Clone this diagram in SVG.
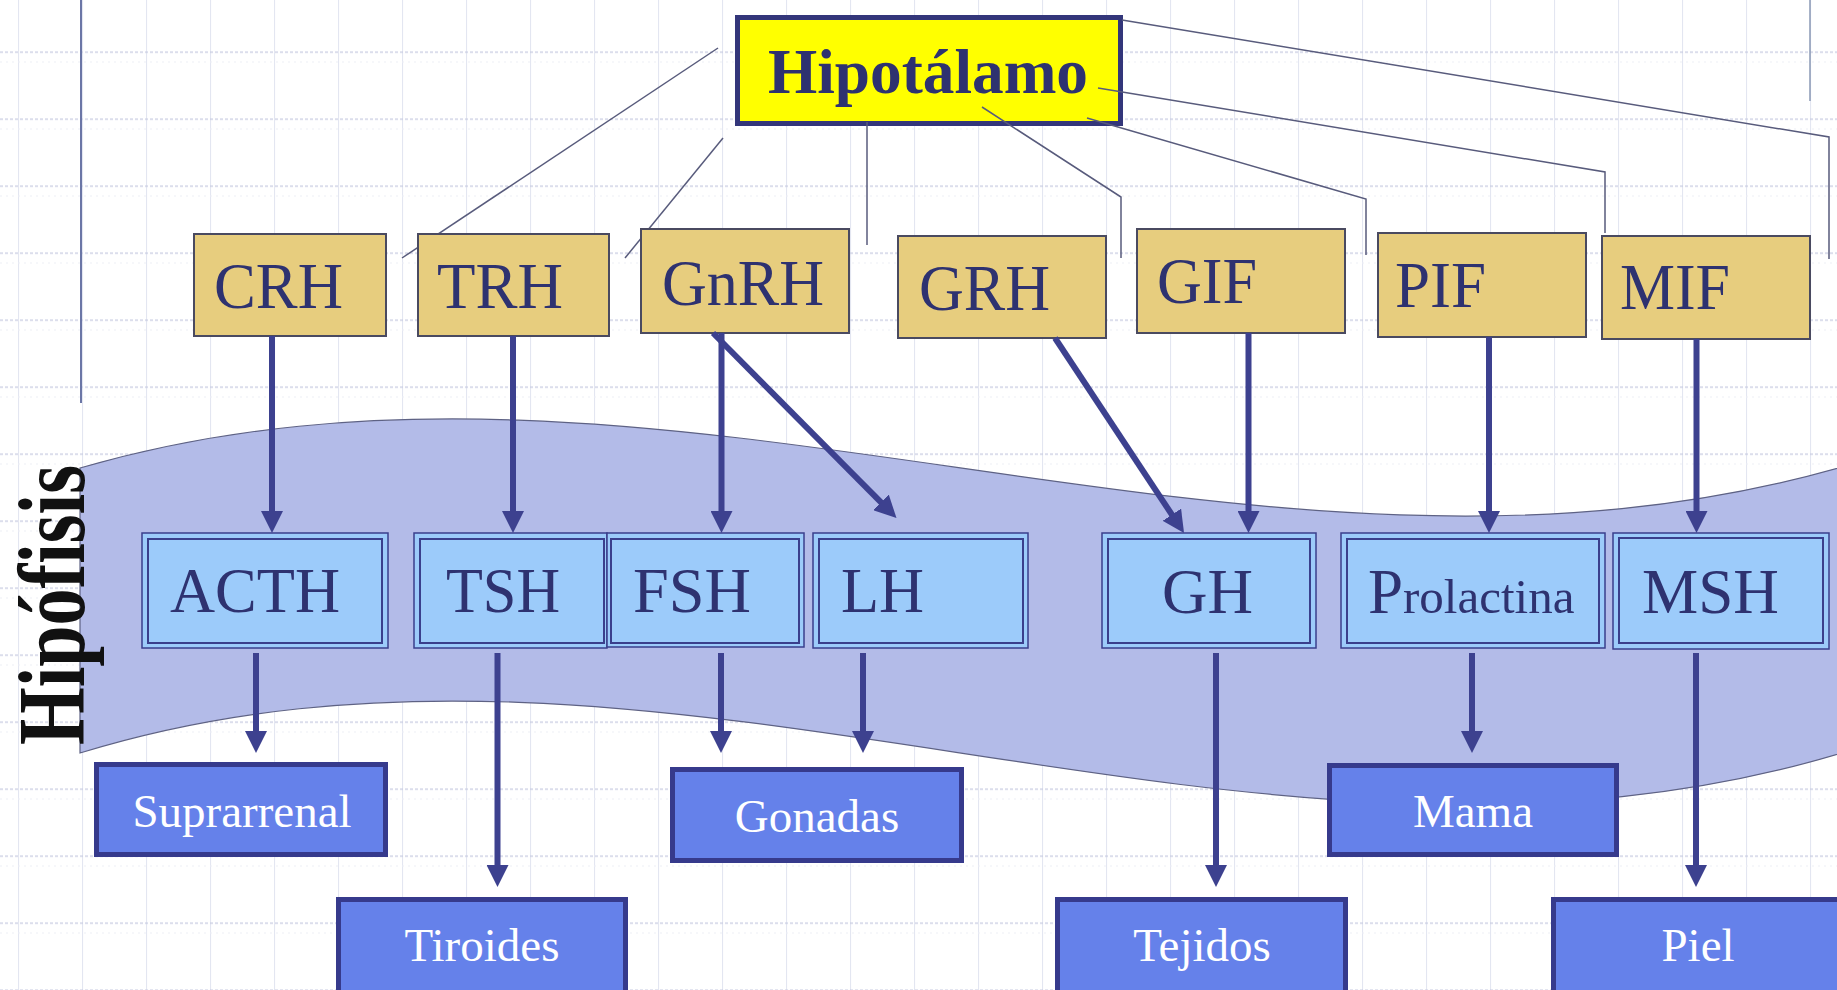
<svg xmlns="http://www.w3.org/2000/svg" width="1837" height="990" viewBox="0 0 1837 990">
  <defs>
    <marker id="head" markerUnits="userSpaceOnUse" markerWidth="22" markerHeight="22" viewBox="0 0 22 22" refX="4" refY="11" orient="auto">
      <path d="M0,0 L22,11 L0,22 Z" fill="#3D418F"/>
    </marker>
    <pattern id="gridV" width="64" height="990" patternUnits="userSpaceOnUse" x="18" y="0">
      <line x1="0.5" y1="0" x2="0.5" y2="990" stroke="#E3E6F1" stroke-width="1.2"/>
    </pattern>
    <pattern id="gridH" width="1837" height="67" patternUnits="userSpaceOnUse" x="0" y="51.5">
      <line x1="0" y1="0.5" x2="1837" y2="0.5" stroke="#C6CAE0" stroke-width="1.5" stroke-dasharray="3 2"/>
      <line x1="0" y1="10.5" x2="1837" y2="10.5" stroke="#ECEEF5" stroke-width="1" stroke-dasharray="2 4"/>
    </pattern>
  </defs>
  <style>
    .tan rect { fill: #E7CD7E; stroke: #4A4A60; stroke-width: 2; }
    .tan text { font-family: "Liberation Serif", "Times New Roman", serif; font-size: 66px; fill: #2E3270; }
    .hb .outer { fill: #9CCBFA; stroke: #3A3F8C; stroke-width: 1.5; }
    .hb .inner { fill: none; stroke: #3A3F8C; stroke-width: 2; }
    .hb text { font-family: "Liberation Serif", "Times New Roman", serif; font-size: 63px; fill: #2E3270; }
    .tg rect { fill: #6581EA; stroke: #363A8C; stroke-width: 5; }
    .tg text { font-family: "Liberation Serif", "Times New Roman", serif; font-size: 47px; fill: #FFFFFF; text-anchor: middle; }
    .thin line, .thin polyline { stroke: #585B7C; stroke-width: 1.5; fill: none; }
    .arr line { stroke: #3D418F; stroke-width: 6; marker-end: url(#head); }
  </style>

  <!-- background grid -->
  <rect width="1837" height="990" fill="#FFFFFF"/>
  <rect width="1837" height="990" fill="url(#gridV)"/>
  <rect width="1837" height="990" fill="url(#gridH)"/>
  <line x1="81" y1="0" x2="81" y2="403" stroke="#6B76A6" stroke-width="2"/>
  <line x1="1810" y1="0" x2="1810" y2="101" stroke="#8A98B4" stroke-width="1.5"/>

  <!-- pituitary band -->
  <g id="hipofisis">
    <path d="M80,468 C666,298 1251,638 1845,466 L1845,752 C1251,933 666,573 80,753 Z" fill="#B3BBE8" stroke="#5E6284" stroke-width="1.2"/>
    <text transform="translate(84,745) rotate(-90)" font-family="Liberation Serif, Times New Roman, serif" font-weight="bold" font-size="96" fill="#111111" textLength="280" lengthAdjust="spacingAndGlyphs">Hipófisis</text>
  </g>

  <!-- hypothalamus -->
  <g id="hipotalamo">
    <rect x="737.5" y="17.5" width="383" height="106" fill="#FFFF00" stroke="#33367A" stroke-width="5"/>
    <text x="768" y="93" font-family="Liberation Serif, Times New Roman, serif" font-weight="bold" font-size="64" fill="#2E3270" textLength="320" lengthAdjust="spacingAndGlyphs">Hipotálamo</text>
  </g>

  <!-- thin links from the hypothalamus to the releasing factors -->
  <g id="links" class="thin">
    <line x1="718" y1="48" x2="402" y2="258"/>
    <line x1="723" y1="138" x2="625" y2="258"/>
    <line x1="867" y1="122" x2="867" y2="245"/>
    <polyline points="982,107 1121,197 1121,258"/>
    <polyline points="1087,118 1366,199 1366,255"/>
    <polyline points="1098,88 1605,172 1605,233"/>
    <polyline points="1122,20 1829,137 1829,259"/>
  </g>

  <!-- releasing factors -->
  <g id="crh" class="tan"><rect x="194" y="234" width="192" height="102"/><text x="214" y="308" textLength="129" lengthAdjust="spacingAndGlyphs">CRH</text></g>
  <g id="trh" class="tan"><rect x="418" y="234" width="191" height="102"/><text x="437" y="308" textLength="126" lengthAdjust="spacingAndGlyphs">TRH</text></g>
  <g id="gnrh" class="tan"><rect x="641" y="229" width="208" height="104"/><text x="662" y="305" textLength="162" lengthAdjust="spacingAndGlyphs">GnRH</text></g>
  <g id="grh" class="tan"><rect x="898" y="236" width="208" height="102"/><text x="919" y="310" textLength="131" lengthAdjust="spacingAndGlyphs">GRH</text></g>
  <g id="gif" class="tan"><rect x="1137" y="229" width="208" height="104"/><text x="1157" y="303" textLength="100" lengthAdjust="spacingAndGlyphs">GIF</text></g>
  <g id="pif" class="tan"><rect x="1378" y="233" width="208" height="104"/><text x="1395" y="307" textLength="91" lengthAdjust="spacingAndGlyphs">PIF</text></g>
  <g id="mif" class="tan"><rect x="1602" y="236" width="208" height="103"/><text x="1620" y="309" textLength="110" lengthAdjust="spacingAndGlyphs">MIF</text></g>

  <!-- pituitary hormones -->
  <g id="acth" class="hb"><rect class="outer" x="142" y="533" width="246" height="115"/><rect class="inner" x="148" y="539" width="234" height="104"/><text x="170" y="612" textLength="170" lengthAdjust="spacingAndGlyphs">ACTH</text></g>
  <g id="tsh" class="hb"><rect class="outer" x="414" y="533" width="193" height="115"/><rect class="inner" x="420" y="539" width="184" height="104"/><text x="446" y="612" textLength="114" lengthAdjust="spacingAndGlyphs">TSH</text></g>
  <g id="fsh" class="hb"><rect class="outer" x="607" y="533" width="197" height="114"/><rect class="inner" x="611" y="539" width="188" height="104"/><text x="633" y="612" textLength="118" lengthAdjust="spacingAndGlyphs">FSH</text></g>
  <g id="lh" class="hb"><rect class="outer" x="813" y="533" width="215" height="115"/><rect class="inner" x="819" y="539" width="204" height="104"/><text x="841" y="612" textLength="83" lengthAdjust="spacingAndGlyphs">LH</text></g>
  <g id="gh" class="hb"><rect class="outer" x="1102" y="533" width="214" height="115"/><rect class="inner" x="1108" y="539" width="202" height="104"/><text x="1162" y="613" textLength="91" lengthAdjust="spacingAndGlyphs">GH</text></g>
  <g id="prolactina" class="hb"><rect class="outer" x="1341" y="533" width="264" height="115"/><rect class="inner" x="1347" y="539" width="252" height="104"/><text x="1368" y="613"><tspan>P</tspan><tspan font-size="49">rolactina</tspan></text></g>
  <g id="msh" class="hb"><rect class="outer" x="1613" y="533" width="216" height="116"/><rect class="inner" x="1619" y="538" width="204" height="105"/><text x="1642" y="613" textLength="137" lengthAdjust="spacingAndGlyphs">MSH</text></g>

  <!-- target organs -->
  <g id="suprarrenal" class="tg"><rect x="96.5" y="764.5" width="289" height="90"/><text x="242" y="827">Suprarrenal</text></g>
  <g id="gonadas" class="tg"><rect x="672.5" y="769.5" width="289" height="91"/><text x="817" y="832">Gonadas</text></g>
  <g id="tiroides" class="tg"><rect x="338.5" y="899.5" width="287" height="110"/><text x="482" y="961">Tiroides</text></g>
  <g id="mama" class="tg"><rect x="1329.5" y="765.5" width="287" height="89"/><text x="1473" y="827">Mama</text></g>
  <g id="tejidos" class="tg"><rect x="1057.5" y="899.5" width="288" height="110"/><text x="1202" y="961">Tejidos</text></g>
  <g id="piel" class="tg"><rect x="1553.5" y="899.5" width="300" height="110"/><text x="1698" y="961">Piel</text></g>

  <!-- stimulation arrows -->
  <g id="arrows" class="arr">
    <line x1="272" y1="336" x2="272" y2="515"/>
    <line x1="513" y1="336" x2="513" y2="515"/>
    <line x1="721.5" y1="333" x2="721.5" y2="515"/>
    <line x1="713" y1="333" x2="883.8" y2="505.2"/>
    <line x1="1055" y1="338" x2="1174.1" y2="518"/>
    <line x1="1248.5" y1="333" x2="1248.5" y2="515"/>
    <line x1="1489" y1="337" x2="1489" y2="515"/>
    <line x1="1696.5" y1="339" x2="1696.5" y2="515"/>
    <line x1="256" y1="653" x2="256" y2="735"/>
    <line x1="497.5" y1="653" x2="497.5" y2="869"/>
    <line x1="721" y1="653" x2="721" y2="735"/>
    <line x1="863" y1="653" x2="863" y2="735"/>
    <line x1="1216" y1="653" x2="1216" y2="869"/>
    <line x1="1472" y1="653" x2="1472" y2="735"/>
    <line x1="1696" y1="653" x2="1696" y2="869"/>
  </g>
</svg>
